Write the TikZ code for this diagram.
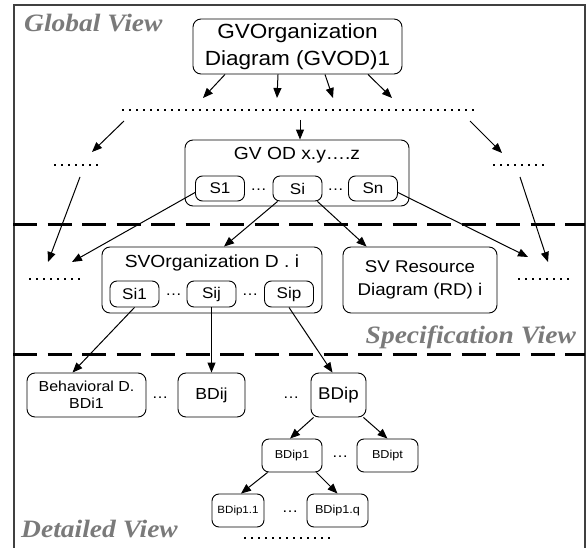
\documentclass[tikz,border=0pt]{standalone}
\usepackage{fontspec}
\setmainfont{Liberation Sans}[FakeStretch=1.1]
\newfontfamily\viewfont{Liberation Serif}[FakeStretch=1.1]
\usepackage{tikz}
\usetikzlibrary{arrows.meta}
\definecolor{Frame}{HTML}{404040}
\definecolor{ViewGray}{HTML}{7A7A7A}
\newcommand{\fsz}[2]{\fontsize{#1pt}{#2pt}\selectfont}
\tikzset{
  box/.style={draw, line width=0.9pt, rounded corners=8pt, align=center, inner sep=0pt},
  sub/.style={box, rounded corners=7pt, minimum width=49pt, minimum height=25pt, font=\fsz{15.5}{18}},
  leaf/.style={box, rounded corners=7pt, minimum height=33pt, font=\fsz{11.5}{14}},
  gap/.style={inner sep=0pt, anchor=base, font=\fsz{15}{18}},
  arrow/.style={-{Triangle[length=10pt,width=8pt]}, line width=1pt},
  dots/.style={line width=2pt, dash pattern=on 2pt off 5pt},
  sep/.style={line width=3pt, dash pattern=on 24pt off 10.5pt},
  view/.style={text=ViewGray, font=\viewfont\bfseries\itshape\fsz{25}{30}, inner sep=0pt},
}

\begin{document}
\begin{tikzpicture}[x=1pt, y=-1pt]
  \useasboundingbox (0,0) rectangle (586,548);
  \draw[Frame, line width=1.5pt] (14,548) -- (14,5) -- (585,5) -- (585,548);
  \draw[sep] (13,224) -- (585,224);
  \draw[sep] (13,354) -- (585,354);

  \node[view, anchor=base west] (gview) at (24,32) {Global View};
  \node[view, anchor=base east] (sview) at (576,343) {Specification View};
  \node[view, anchor=base west] (dview) at (21,537) {Detailed View};

  % global view
  \node[box, minimum width=209pt, minimum height=55pt, font=\fsz{20.5}{26.5}] (gvod) at (297.5,46.5)
    {GVOrganization\\Diagram (GVOD)1};
  \draw[dots] (122,110) -- (476,110);
  \draw[dots] (54,165) -- (101,165);
  \draw[dots] (493,165) -- (548,165);
  \node[box, minimum width=224pt, minimum height=66pt] (gvodx) at (297,173) {};
  \node[inner sep=0pt, font=\fsz{17.5}{20}] (gvodxt) at (297,155) {GV OD x.y….z};
  \node[sub] (s1) at (220,188.5) {S1};
  \node[sub] (si) at (297.5,188.5) {Si};
  \node[sub] (sn) at (373,188.5) {Sn};
  \node[gap] (g1) at (258.5,190) {…};
  \node[gap] (g2) at (335.5,190) {…};

  \coordinate (t1) at (203,98);
  \coordinate (t2) at (277,98);
  \coordinate (t3) at (333,98);
  \coordinate (t4) at (392,98);
  \draw[arrow] ([xshift=-72.5pt]gvod.south) -- (t1);
  \draw[arrow] ([xshift=-19.5pt]gvod.south) -- (t2);
  \draw[arrow] ([xshift=27.5pt]gvod.south) -- (t3);
  \draw[arrow] ([xshift=70.5pt]gvod.south) -- (t4);

  \coordinate (la) at (124,121);
  \coordinate (lb) at (92,152);
  \coordinate (ra) at (470,121);
  \coordinate (rb) at (502,153);
  \coordinate (ma) at (300,120);
  \draw[arrow] (la) -- (lb);
  \draw[arrow] (ra) -- (rb);
  \draw[arrow] (ma) -- ([xshift=3pt]gvodx.north);

  % specification view
  \draw[dots] (29,279) -- (84,279);
  \draw[dots] (518,279) -- (573,279);
  \node[box, minimum width=220pt, minimum height=66pt] (svod) at (212,280) {};
  \node[inner sep=0pt, font=\fsz{17.5}{20}] (svodt) at (212,263) {SVOrganization D . i};
  \node[sub, minimum height=26pt] (si1) at (134.5,294) {Si1};
  \node[sub, minimum height=26pt] (sij) at (211.5,294) {Sij};
  \node[sub, minimum height=26pt] (sip) at (289,294) {Sip};
  \node[gap] (g3) at (173.5,295) {…};
  \node[gap] (g4) at (250,295) {…};
  \node[box, minimum width=154pt, minimum height=66pt, font=\fsz{17}{23}] (svrd) at (420,280)
    {SV Resource\\Diagram (RD) i};

  \coordinate (lc) at (80,177);
  \coordinate (ld) at (48,262);
  \coordinate (le) at (72,262);
  \coordinate (rc) at (520,177);
  \coordinate (rd) at (548,262);
  \coordinate (re) at (528,257);
  \draw[arrow] (lc) -- (ld);
  \draw[arrow] ([yshift=-4pt]s1.west) -- (le);
  \draw[arrow] ([xshift=5pt]si.south west) -- ([xshift=12pt]svod.north);
  \draw[arrow] ([xshift=-5pt]si.south east) -- ([xshift=24pt]svrd.north west);
  \draw[arrow] ([yshift=-4pt]sn.east) -- (re);
  \draw[arrow] (rc) -- (rd);

  % detailed view
  \node[box, minimum width=119pt, minimum height=44pt, font=\fsz{14.5}{17}] (bdi1) at (86.5,395)
    {Behavioral D.\\BDi1};
  \node[box, minimum width=67pt, minimum height=44pt, font=\fsz{16}{18}] (bdij) at (211.5,395) {BDij};
  \node[box, minimum width=55pt, minimum height=44pt, font=\fsz{17}{20}] (bdip) at (338.5,395) {BDip};
  \node[gap] (g5) at (160,398) {…};
  \node[gap] (g6) at (291,398) {…};
  \node[leaf, minimum width=60pt] (bdip1) at (292,455.5) {BDip1};
  \node[leaf, minimum width=61pt] (bdipt) at (387.5,455.5) {BDipt};
  \node[gap] (g7) at (340,457) {…};
  \node[leaf, minimum width=52pt, font=\fsz{10.5}{13}] (bdip11) at (238,510.5) {BDip1.1};
  \node[leaf, minimum width=61pt] (bdip1q) at (337.5,510.5) {BDip1.q};
  \node[gap] (g8) at (290,512) {…};
  \draw[dots] (244,538) -- (334,538);

  \draw[arrow] (si1.south) -- ([xshift=-14pt]bdi1.north);
  \draw[arrow] (sij.south) -- (bdij.north);
  \draw[arrow] (sip.south) -- ([xshift=-6pt]bdip.north);
  \draw[arrow] ([xshift=3pt]bdip.south west) -- ([xshift=-2pt]bdip1.north);
  \draw[arrow] ([xshift=-3pt]bdip.south east) -- (bdipt.north);
  \draw[arrow] ([xshift=6pt]bdip1.south west) -- ([xshift=3pt]bdip11.north);
  \draw[arrow] ([xshift=-6pt]bdip1.south east) -- (bdip1q.north);
\end{tikzpicture}
\end{document}
